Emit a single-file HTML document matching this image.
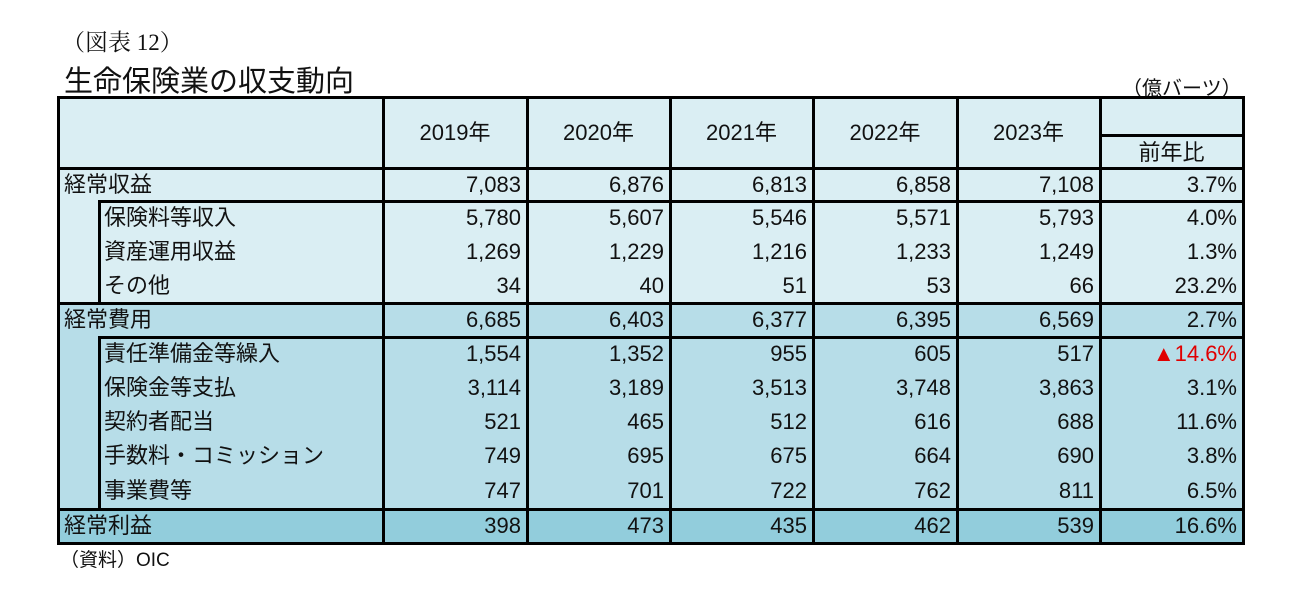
<!DOCTYPE html>
<html><head><meta charset="utf-8"><style>
body{margin:0;background:#fff;width:1309px;height:600px;position:relative;overflow:hidden;font-family:"Liberation Sans","Noto Sans CJK JP",sans-serif;color:#111}
.a{position:absolute}
.c{position:absolute;box-sizing:border-box;font-size:22px;line-height:34px;white-space:nowrap}
.r{text-align:right;padding-right:6px}
.l{position:absolute;background:#000}
</style></head><body>
<div class="a" style="left:62px;top:24px;font-family:'Liberation Serif','Noto Serif CJK SC',serif;font-size:23px">（図表 12）</div>
<div class="a" style="left:64px;top:58px;font-size:29px;font-family:'Liberation Sans','Noto Sans CJK JP',sans-serif">生命保険業の収支動向</div>
<div class="a" style="left:1122px;top:72px;font-size:20px">（億バーツ）</div>
<div id="tbl"></div>
<div class="a" style="left:60px;top:545px;font-size:19px">（資料）OIC</div>
<script>
const years=["2019年","2020年","2021年","2022年","2023年"];
const rowLabels=["経常収益","保険料等収入","資産運用収益","その他","経常費用","責任準備金等繰入","保険金等支払","契約者配当","手数料・コミッション","事業費等","経常利益"];
const v2019=["7,083","5,780","1,269","34","6,685","1,554","3,114","521","749","747","398"];
const v2020=["6,876","5,607","1,229","40","6,403","1,352","3,189","465","695","701","473"];
const v2021=["6,813","5,546","1,216","51","6,377","955","3,513","512","675","722","435"];
const v2022=["6,858","5,571","1,233","53","6,395","605","3,748","616","664","762","462"];
const v2023=["7,108","5,793","1,249","66","6,569","517","3,863","688","690","811","539"];
const yoy=["3.7%","4.0%","1.3%","23.2%","2.7%","▲14.6%","3.1%","11.6%","3.8%","6.5%","16.6%"];
const cols=[58,383,527,670,813,957,1100,1243];
const rowTop=[168,201,235,269,303,337,371,405,439,473,509,543];
const T=document.getElementById('tbl');
function box(x,y,w,h,bg,cls){const d=document.createElement('div');d.className=cls||'a';d.style.cssText+=`left:${x}px;top:${y}px;width:${w}px;height:${h}px;`+(bg?`background:${bg};`:'');T.appendChild(d);return d;}
// backgrounds
box(58,97,1185,206,'#daeef3');
box(58,303,1185,206,'#b7dde8');
box(58,509,1185,34,'#92cddc');
// header
years.forEach((y,i)=>{const d=box(cols[i+1],100,cols[i+2]-cols[i+1],66,null,'c');d.style.textAlign='center';d.style.lineHeight='66px';d.textContent=y;

});
{const d=box(1100,137,143,31,null,'c');d.style.textAlign='center';d.style.lineHeight='31px';d.textContent='前年比';

}
const series=[v2019,v2020,v2021,v2022,v2023,yoy];
rowLabels.forEach((lab,r)=>{
 const top=rowTop[r],h=rowTop[r+1]-top;
 const sub=!(r===0||r===4||r===10);
 const d=box(sub?104:64,top,300,h,null,'c');d.textContent=lab;d.style.lineHeight=h+'px';
 
 
 series.forEach((s,i)=>{const e=box(cols[i+1],top,cols[i+2]-cols[i+1],h,null,'c r');e.style.lineHeight=h+'px';e.textContent=s[r];
  if(s[r].startsWith('▲'))e.style.color='#e00000';
  
  });
});
// lines
function L(x,y,w,h){const d=document.createElement('div');d.className='l';d.style.cssText=`left:${x}px;top:${y}px;width:${w}px;height:${h}px`;T.appendChild(d);}
L(57,96,1188,3);L(57,542,1188,3);L(57,96,3,449);L(1242,96,3,449);
for(let i=1;i<7;i++)L(cols[i]-1,96,3,449);
L(1100,134,144,3);
L(57,167,1188,3);
L(98,200,1147,3);L(57,302,1188,3);
L(98,336,1147,3);L(57,508,1188,3);
L(98,200,3,104);L(98,336,3,174);
</script>
</body></html>
